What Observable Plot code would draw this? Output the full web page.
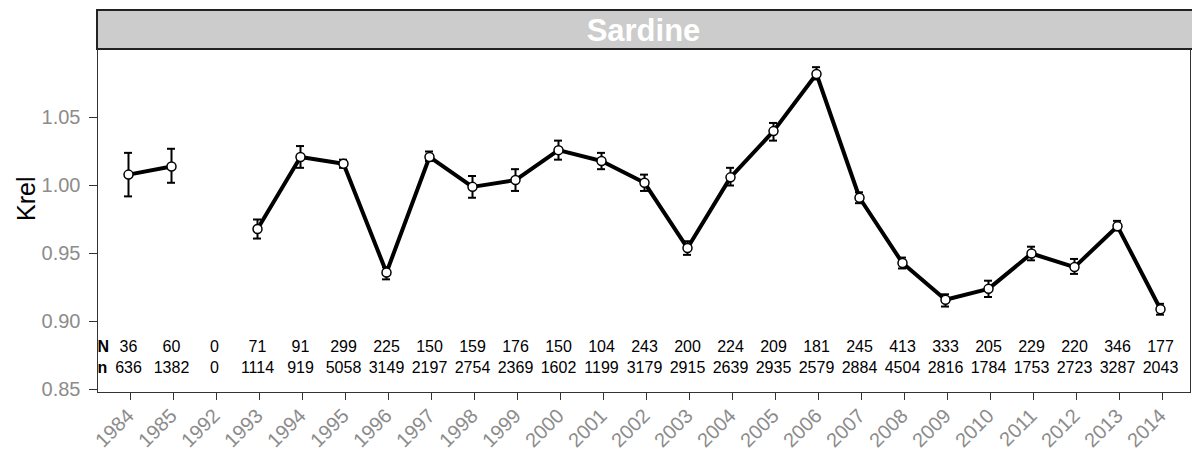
<!DOCTYPE html>
<html><head><meta charset="utf-8">
<script src="https://cdn.jsdelivr.net/npm/d3@7"></script>
<script src="https://cdn.jsdelivr.net/npm/@observablehq/plot@0.6"></script>
<style>body{margin:0;background:#fff}</style>
</head><body><div id="chart"></div>
<script>
const panelTitle = "Sardine";
const yLabel = "Krel";
const years = ["1984","1985","1992","1993","1994","1995","1996","1997","1998","1999","2000","2001","2002","2003","2004","2005","2006","2007","2008","2009","2010","2011","2012","2013","2014"];
const krel  = [1.008,1.014,NaN,0.968,1.021,1.016,0.936,1.021,0.999,1.004,1.026,1.018,1.002,0.954,1.006,1.040,1.082,0.991,0.943,0.916,0.924,0.950,0.940,0.970,0.909];
const lower = [0.992,1.002,NaN,0.961,1.013,1.013,0.931,1.018,0.991,0.996,1.019,1.012,0.996,0.949,1.000,1.033,1.078,0.987,0.939,0.911,0.918,0.945,0.935,0.967,0.905];
const upper = [1.024,1.027,NaN,0.975,1.029,1.019,0.940,1.025,1.007,1.012,1.033,1.024,1.008,0.959,1.013,1.046,1.087,0.995,0.947,0.920,0.930,0.955,0.946,0.974,0.913];
const bigN   = [36,60,0,71,91,299,225,150,159,176,150,104,243,200,224,209,181,245,413,333,205,229,220,346,177];
const smallN = [636,1382,0,1114,919,5058,3149,2197,2754,2369,1602,1199,3179,2915,2639,2935,2579,2884,4504,2816,1784,1753,2723,3287,2043];
const yTicks = [0.85,0.90,0.95,1.00,1.05];

const table = years.map((year, i) => ({year, krel: krel[i], lo: lower[i], hi: upper[i], N: bigN[i], n: smallN[i]}));
const valid = table.filter(d => !isNaN(d.krel));

const strip = (index, scales, values, dim) => {
  const g = d3.create("svg:g");
  const w = dim ? dim.width : 1192;
  const ml = dim ? dim.marginLeft : 97;
  const mr = dim ? dim.marginRight : 2;
  const mt = dim ? dim.marginTop : 49;
  g.append("rect").attr("x", ml).attr("y", 10).attr("width", w - ml + 2).attr("height", mt - 10)
    .attr("fill", "#cccccc").attr("stroke", "#222").attr("stroke-width", 2);
  g.append("text").attr("x", (ml + w - mr) / 2).attr("y", (10 + mt) / 2).attr("dy", "0.36em")
    .attr("text-anchor", "middle").attr("fill", "white").attr("font-weight", "bold")
    .attr("font-size", 31).text(panelTitle);
  return g.node();
};

const chart = Plot.plot({
  width: 1192, height: 451,
  marginLeft: 97, marginRight: 2, marginTop: 49, marginBottom: 59,
  style: {fontFamily: "Liberation Sans, Arial, sans-serif", fontSize: "20px", color: "#333", background: "white"},
  x: {type: "band", domain: years, paddingInner: 0.816, paddingOuter: 0.508},
  y: {domain: [0.8478, 1.1]},
  marks: [
    Plot.frame({stroke: "#333"}),
    strip,
    Plot.axisY({ticks: yTicks, tickFormat: d3.format(".2f"), fill: "#8c8c8c", tickSize: 8, tickPadding: 9, label: null}),
    Plot.axisX({tickRotate: -45, fill: "#8c8c8c", tickSize: 8, tickPadding: 12, dx: 2, label: null}),
    Plot.text([yLabel], {frameAnchor: "left", dx: -71, rotate: -90, fontSize: 25, fill: "black"}),
    Plot.line(table, {x: "year", y: "krel", stroke: "black", strokeWidth: 4}),
    Plot.ruleX(valid, {x: "year", y1: "lo", y2: "hi", stroke: "black", strokeWidth: 2}),
    Plot.tickY(valid, {x: "year", y: "lo", stroke: "black", strokeWidth: 2}),
    Plot.tickY(valid, {x: "year", y: "hi", stroke: "black", strokeWidth: 2}),
    Plot.dot(valid, {x: "year", y: "krel", r: 4.5, fill: "white", stroke: "black", strokeWidth: 1.5}),
    Plot.text(table, {x: "year", text: d => String(d.N), frameAnchor: "bottom", dy: -41, fontSize: 16, fill: "black"}),
    Plot.text(table, {x: "year", text: d => String(d.n), frameAnchor: "bottom", dy: -19.5, fontSize: 16, fill: "black"}),
    Plot.text(["N"], {frameAnchor: "bottom-left", dx: 0, dy: -41, textAnchor: "start", fontWeight: "bold", fontSize: 16, fill: "black"}),
    Plot.text(["n"], {frameAnchor: "bottom-left", dx: 0, dy: -19.5, textAnchor: "start", fontWeight: "bold", fontSize: 16, fill: "black"})
  ]
});
document.getElementById("chart").appendChild(chart);
</script>
</body></html>
